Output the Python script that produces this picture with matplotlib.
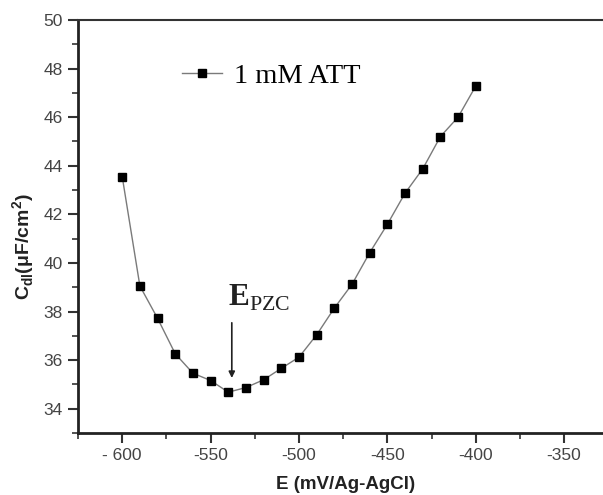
import numpy as np
import matplotlib
matplotlib.use('Agg')
from matplotlib import pyplot as plt
from matplotlib.ticker import MultipleLocator, FixedLocator

plt.rcParams['mathtext.fontset'] = 'custom'
plt.rcParams['mathtext.rm'] = 'Liberation Serif'
plt.rcParams['mathtext.bf'] = 'Liberation Serif:bold'

# capacitance vs potential, 1 mM ATT
potential = [-600, -590, -580, -570, -560, -550, -540, -530, -520, -510, -500,
             -490, -480, -470, -460, -450, -440, -430, -420, -410, -400]
cdl = [43.55, 39.05, 37.72, 36.26, 35.46, 35.16, 34.68, 34.87, 35.19, 35.66, 36.12,
       37.04, 38.14, 39.12, 40.42, 41.59, 42.87, 43.87, 45.20, 46.00, 47.28]
e_pzc = -538

xticks = [-600, -550, -500, -450, -400, -350]
xticklabels = ['- 600', '-550', '-500', '-450', '-400', '-350']
yticks = [34, 36, 38, 40, 42, 44, 46, 48, 50]

fig = plt.figure(figsize=(6.03, 4.95), dpi=100)
ax = fig.add_axes([0.1294, 0.1253, 0.8706, 0.8343])

ax.plot(potential, cdl, color='#7a7a7a', lw=1.0, marker='s', ms=6,
        mfc='black', mec='black', label='1 mM ATT')

ax.set_xlim(-625, -328)
ax.set_ylim(33, 50)
ax.xaxis.set_major_locator(FixedLocator(xticks))
ax.set_xticklabels(xticklabels)
ax.xaxis.set_minor_locator(MultipleLocator(25))
ax.set_yticks(yticks)
ax.yaxis.set_minor_locator(MultipleLocator(1))

for side in ['left', 'bottom']:
    ax.spines[side].set_linewidth(2.0)
    ax.spines[side].set_color('#222222')
ax.spines['top'].set_linewidth(1.5)
ax.spines['top'].set_color('#333333')
ax.spines['right'].set_visible(False)

ax.tick_params(which='major', direction='out', length=7, width=1.5,
               color='#333333', labelsize=12.5, labelcolor='#444444', pad=4)
ax.tick_params(which='minor', direction='out', length=4, width=1.2, color='#333333')
for lab in ax.get_xticklabels() + ax.get_yticklabels():
    lab.set_family('Liberation Sans')

ax.set_xlabel('E (mV/Ag-AgCl)', fontsize=13.5, fontweight='bold',
              family='Liberation Sans', color='#222222')
ax.xaxis.set_label_coords(0.51, -0.104)
ax.set_ylabel(r'C$_{\mathregular{dl}}$(μF/cm$^{\mathregular{2}}$)', fontsize=14,
              fontweight='bold', family='Liberation Sans', color='#222222')
ax.yaxis.set_label_coords(-0.078, 0.45)

leg = ax.legend(loc='upper left', bbox_to_anchor=(0.15, 0.957), frameon=False,
                prop={'family': 'Liberation Serif', 'size': 20.5},
                handlelength=1.4, handletextpad=0.42)

ax.text(e_pzc - 2, 38.25, r'$\mathbf{E}_{\mathrm{PZC}}$', fontsize=22.5,
        color='#222222')
ax.annotate('', xy=(e_pzc, 35.15), xytext=(e_pzc, 37.65),
            arrowprops=dict(arrowstyle='-|>', color='#222222', lw=1.2,
                            mutation_scale=9))

fig.savefig('out.png', dpi=100)
